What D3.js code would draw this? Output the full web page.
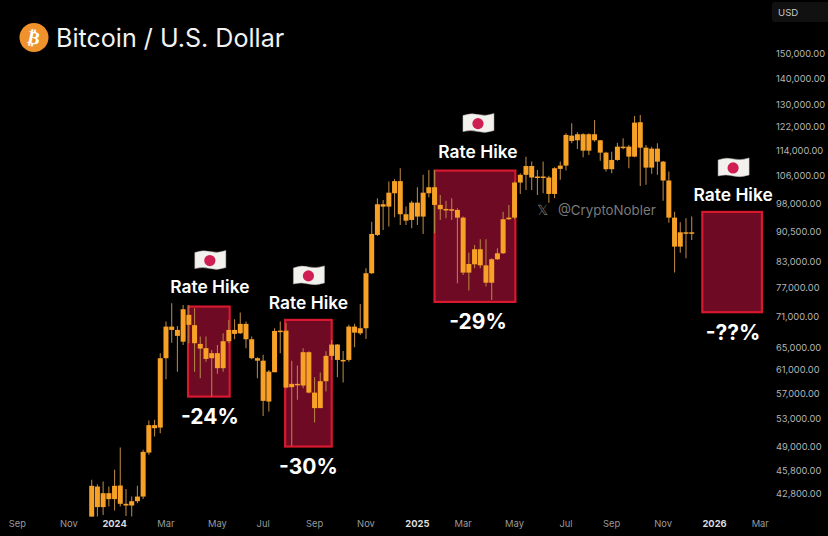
<!DOCTYPE html>
<html><head><meta charset="utf-8">
<script src="https://cdn.jsdelivr.net/npm/d3@7"></script>
<style>
html,body{margin:0;padding:0;background:#000;overflow:hidden}
text{font-family:Inter,"Noto Sans",sans-serif}
</style></head><body><svg id="c" width="828" height="536"></svg>
<script>
// Weekly candles start 2023-12-04
const firstWeek = "2023-12-04";
const weekHigh = [44560,44000,44350,43720,45850,48860,43400,42490,43810,48540,52770,52870,63940,69960,73730,69110,73370,73370,72680,67040,67040,64540,65460,67670,70300,70440,71780,69960,67040,63210,63630,60960,68650,69960,69630,62590,61720,64860,64280,59710,60500,64280,66400,65650,64350,69310,69510,73580,81440,93010,99430,98950,104290,105010,108310,97090,98750,102610,106300,107800,107800,100380,98750,99430,96640,94370,85140,87050,88470,88470,83810,86230,95700,97560,104290,106810,111950,110390,107800,110390,106000,108620,110390,119680,123150,120020,119680,119700,124300,117400,113550,113550,116510,117980,115750,125740,126100,115750,115190,116340,110590,107290,95700,92850,93930,94370];
const bodyHigh = [43810,43720,42900,42900,43810,43850,41620,41930,42490,48260,52080,52080,63030,68970,68970,68320,72470,71310,69250,65650,64860,63940,63940,66150,68320,68320,69510,69510,66530,63030,62590,60660,68120,68180,68180,58590,58590,64120,64120,57140,59030,63450,65530,65530,62720,68970,68970,68650,80300,89820,97750,97750,101030,104410,104410,95010,98200,98200,101030,102610,102610,97560,96450,96370,96170,94090,82440,85980,85980,82130,83570,85000,93660,94090,103990,106300,109000,109000,105790,105790,105490,108310,109130,119100,118860,119340,119340,119340,119340,117300,113240,110900,115190,115190,115190,123350,123490,114860,114530,114530,110370,104590,94090,90240,90240,90240];
const bodyLow = [40130,41230,41230,42180,42180,41620,41420,41420,41930,42490,48160,51630,51720,63030,68320,67170,66070,69310,65780,64780,62900,63030,61260,61260,66150,67550,67670,66530,63030,62590,55810,55700,60560,68060,57970,58030,58420,58300,57140,54670,54670,59030,63450,62720,62480,62720,67790,67670,68650,80300,89560,97090,97090,100860,95010,93280,93470,94370,94370,100860,97560,96370,96170,96170,94090,80440,80440,82370,82130,78160,78160,83570,85000,93660,94090,103990,106300,105490,105610,105610,100660,100660,108110,109130,117070,117300,113880,113880,117300,113240,108020,108020,110900,114760,111960,111960,114860,108510,108510,110370,104590,94090,86630,86630,90080,90080];
const weekLow = [40130,40130,40320,41300,40830,41300,40210,40130,41700,42180,47850,50410,50900,59370,65880,60660,65460,65780,60660,59540,62410,56500,60280,60660,65780,66530,67550,64860,62850,59540,53470,54130,60560,63940,57870,49100,55970,57870,57030,52460,54670,57310,62720,59710,58800,62410,65040,67360,66590,80150,89310,90840,91710,94200,92150,92150,91290,92150,89820,99720,89980,93470,93930,93470,78030,79890,76420,81460,81460,77300,74420,83400,84840,93470,93660,100660,101800,101800,100380,100860,98200,99430,104800,107590,116340,114430,111740,112500,116840,110680,107290,106810,110680,114330,108310,111740,103000,103300,106600,106300,98750,92740,80440,85140,83810,88290];

const priceTicks = [150000,140000,130000,122000,114000,106000,98000,90500,83000,77000,71000,65000,61000,57000,53000,49000,45800,42800];
const timeTickDates = ["2023-09-04","2023-11-06","2024-01-01","2024-03-04","2024-05-06","2024-07-01","2024-09-02","2024-11-04","2025-01-06","2025-03-03","2025-05-05","2025-07-07","2025-09-01","2025-11-03","2026-01-05","2026-03-02"];
const timeTickLabels = ["Sep","Nov","2024","Mar","May","Jul","Sep","Nov","2025","Mar","May","Jul","Sep","Nov","2026","Mar"];

const boxStart = ["2024-03-31","2024-07-28","2025-01-27","2025-12-21"];
const boxEnd   = ["2024-05-21","2024-09-23","2025-05-06","2026-03-04"];
const boxTop   = [73020,70300,107590,95630];
const boxBottom= [56500,49000,74000,71860];
const boxDrops = ["-24%","-30%","-29%","-??%"];

// label placement around each box (pixels)
const labelShiftX = [1,0,3,1];
const hikeGap = [14,11,13,11];
const flagGap = [46,44,47,44];

const parse = d3.utcParse("%Y-%m-%d");
const x = d3.scaleUtc().domain([parse(firstWeek), parse("2025-12-08")]).range([91.7, 691.7]);
const y = d3.scaleLog().domain([150000, 42800]).range([54, 494]);
const weekDate = i => d3.utcDay.offset(parse(firstWeek), i*7);

const svg = d3.select("#c");
svg.append("rect").attr("width",828).attr("height",536).attr("fill","#000");

// boxes
const boxes = svg.append("g").selectAll("g").data(boxTop).join("g");
boxes.append("rect")
  .attr("x",(d,i)=>x(parse(boxStart[i])))
  .attr("y",d=>y(d))
  .attr("width",(d,i)=>x(parse(boxEnd[i]))-x(parse(boxStart[i])))
  .attr("height",(d,i)=>y(boxBottom[i])-y(d))
  .attr("fill","#6e0a24").attr("stroke","#d8182f").attr("stroke-width",2.2);

// candles
const candle = svg.append("g").selectAll("g").data(weekHigh).join("g");
candle.append("line")
  .attr("x1",(d,i)=>x(weekDate(i))).attr("x2",(d,i)=>x(weekDate(i)))
  .attr("y1",d=>y(d)).attr("y2",(d,i)=>y(weekLow[i]))
  .attr("stroke","#b08040").attr("stroke-width",1.1);
candle.append("rect")
  .attr("x",(d,i)=>x(weekDate(i))-2.5).attr("width",5)
  .attr("y",(d,i)=>y(bodyHigh[i]))
  .attr("height",(d,i)=>Math.max(1.5,y(bodyLow[i])-y(bodyHigh[i])))
  .attr("fill","#f7a126");

// annotations
boxes.each(function(d,i){
  const g=d3.select(this);
  const cx=(x(parse(boxStart[i]))+x(parse(boxEnd[i])))/2+labelShiftX[i];
  const top=y(d), bot=y(boxBottom[i]);
  g.append("text").attr("x",cx).attr("y",top-hikeGap[i]).attr("text-anchor","middle")
    .attr("fill","#fff").attr("font-size",17.4).attr("font-weight",600).text("Rate Hike");
  const f=g.append("g").attr("transform",`translate(${cx},${top-flagGap[i]})`);
  f.append("path").attr("d","M-15,-8 Q-7,-11 0,-9 Q8,-7 16,-10 L16,7 Q8,10 0,8 Q-7,6 -15,8 Z")
    .attr("fill","#f3f1ee").attr("stroke","#b9b6b2").attr("stroke-width",.5);
  f.append("circle").attr("r",5.6).attr("fill","#cf1f52");
  g.append("text").attr("x",cx).attr("y",bot+27.5).attr("text-anchor","middle")
    .attr("fill","#fff").attr("font-size",21).attr("font-weight",700).text(boxDrops[i]);
});

// axes as text
const yAxis = d3.axisRight(y).tickValues(priceTicks).tickFormat(d3.format(",.2f")).tickSize(0).tickPadding(0);
const ya = svg.append("g").attr("transform","translate(776,0)").call(yAxis);
ya.select(".domain").remove();
ya.selectAll("text").attr("fill","#b4b4b4").attr("font-size",9.3).style("font-family","Inter,sans-serif");

svg.append("g").selectAll("text").data(timeTickDates).join("text")
  .attr("x",d=>x(parse(d))).attr("y",527).attr("text-anchor","middle")
  .attr("font-size",9.4)
  .attr("font-weight",(d,i)=>/^\d/.test(timeTickLabels[i])?700:400)
  .attr("fill",(d,i)=>/^\d/.test(timeTickLabels[i])?"#dcdcdc":"#9a9a9a")
  .text((d,i)=>timeTickLabels[i]);

// USD chip
svg.append("rect").attr("x",772).attr("y",2).attr("width",60).attr("height",20).attr("rx",3).attr("fill","#111");
svg.append("text").attr("x",778).attr("y",16).attr("fill","#c8c8c8").attr("font-size",9.6).text("USD");

// title
svg.append("circle").attr("cx",34).attr("cy",37.5).attr("r",14.5).attr("fill","#f0922b");
svg.append("text").attr("x",34).attr("y",44).attr("text-anchor","middle").attr("fill","#fff").attr("font-size",18).attr("font-weight",700)
  .attr("transform","rotate(12 34 37.5)").style("font-family","'DejaVu Sans'").text("₿");
svg.append("text").attr("x",56).attr("y",47).attr("fill","#f2f2f2").attr("font-size",25.1).text("Bitcoin / U.S. Dollar");

// watermark
svg.append("text").attr("x",537).attr("y",215).attr("fill","#6f6f6f").attr("font-size",14).text("𝕏");
svg.append("text").attr("x",558).attr("y",215).attr("fill","#7a7a7a").attr("font-size",13.3).text("@CryptoNobler");
</script></body></html>
